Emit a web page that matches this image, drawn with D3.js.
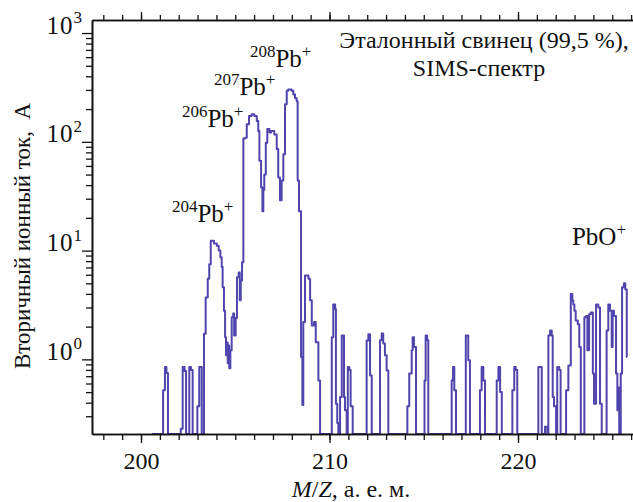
<!DOCTYPE html>
<meta charset="utf-8">
<script src="https://d3js.org/d3.v7.min.js"></script>
<style>
  body { margin: 0; background: #fff; }
  svg text { font-family: "Liberation Serif", "Times New Roman", serif; fill: #111; }
</style>
<div id="chart"></div>
<script>

// SIMS spectrum, as steps: m/z where the level starts, ion current (A)
// 0 = below the noise floor (drawn on the bottom axis)
const mz = [
  200.58, 201.17, 201.27, 201.35, 201.43, 202.11, 202.21, 202.31, 202.39, 202.56,
  202.65, 202.74, 202.99, 203.09, 203.22, 203.34, 203.43, 203.54, 203.62, 203.70,
  203.87, 204.02, 204.12, 204.21, 204.28, 204.33, 204.40, 204.46, 204.51, 204.55,
  204.60, 204.65, 204.68, 204.74, 204.81, 204.89, 204.94, 205.02, 205.09, 205.18,
  205.24, 205.29, 205.36, 205.43, 205.52, 205.61, 205.73, 205.87, 206.01, 206.14,
  206.22, 206.28, 206.37, 206.44, 206.49, 206.54, 206.62, 206.70, 206.81, 206.90,
  207.07, 207.20, 207.28, 207.37, 207.46, 207.55, 207.64, 207.73, 207.81, 207.99,
  208.08, 208.17, 208.26, 208.31, 208.38, 208.49, 208.56, 208.61, 208.70, 208.88,
  208.97, 209.06, 209.18, 209.27, 209.41, 209.50, 210.12, 210.20, 210.30, 210.34,
  210.41, 210.47, 210.56, 210.65, 210.77, 210.82, 210.91, 210.97, 211.05, 211.12,
  211.23, 211.97, 212.06, 212.15, 212.24, 212.68, 212.77, 212.85, 212.94, 213.03,
  213.12, 214.13, 214.23, 214.36, 214.41, 214.48, 214.59, 215.04, 215.10, 215.18,
  215.24, 216.48, 216.55, 216.62, 216.71, 217.23, 217.36, 217.45, 217.98, 218.07,
  218.16, 218.25, 218.87, 218.96, 219.05, 219.14, 219.70, 219.80, 219.88, 219.96,
  221.08, 221.26, 221.43, 221.55, 221.61, 221.70, 221.79, 221.84, 221.91, 222.02,
  222.08, 222.19, 222.26, 222.55, 222.67, 222.80, 222.88, 222.93, 222.99, 223.06,
  223.17, 223.25, 223.33, 223.52, 223.61, 223.68, 223.77, 223.86, 223.97, 224.03,
  224.14, 224.26, 224.35, 224.44, 224.70, 224.79, 224.88, 224.97, 225.02, 225.09,
  225.20, 225.27, 225.32, 225.37, 225.45, 225.52, 225.62, 225.69, 225.77, 225.79
];
const ion = [
  0, 0.52, 0.85, 0.75, 0, 0.23, 0.85, 0.78, 0, 0.85,
  0.8, 0, 0.37, 0.85, 0, 1.72, 3.7, 5.5, 7.5, 12.3,
  11.6, 11.1, 10.0, 8.7, 7.1, 4.6, 2.8, 1.6, 1.09, 1.43,
  0.92, 1.34, 0.83, 1.21, 2.44, 2.64, 1.66, 2.4, 5.7, 6.3,
  3.5, 5.3, 7.8, 107, 109, 145, 173, 179, 173, 155,
  126, 67, 38, 23, 36, 50, 98, 131, 122, 126,
  117, 86, 47, 29, 44, 77, 221, 294, 303, 294,
  273, 252, 236, 44, 23, 1.05, 0.38, 2.2, 5.9, 5.5,
  3.5, 2.05, 2.2, 1.44, 0.64, 0, 1.6, 3.2, 2.9, 0.39,
  0.26, 0, 0.45, 1.66, 0.45, 0.34, 0, 0.85, 0.8, 0.37,
  0, 1.49, 1.7, 0.71, 0, 1.5, 1.73, 1.4, 1.09, 0.79,
  0, 0.37, 0.74, 1.21, 1.6, 1.3, 0, 0.64, 1.66, 1.5,
  0, 0.64, 0.85, 0.52, 0, 1.66, 0.98, 0, 0.52, 0.85,
  0.64, 0, 0.64, 0.85, 0.50, 0, 0.52, 0.85, 0.8, 0,
  0.85, 0, 0.24, 0, 1.66, 1.84, 1.66, 0.45, 0.37, 0,
  0.85, 0.8, 0, 0.52, 0.88, 4.0, 3.5, 3.2, 2.8, 2.28,
  2.1, 1.3, 0, 2.44, 2.5, 1.21, 2.6, 2.7, 0.74, 0.39,
  3.2, 3.0, 0.39, 0, 1.84, 3.2, 2.8, 1.3, 2.8, 2.5,
  0.74, 0.34, 0.55, 0, 0.74, 4.6, 5.0, 4.4, 1.05, 1.05
];

// axis ticks
const xMajor = [200, 210, 220];
const xMinor = d3.range(198, 227);
const yMajor = [1, 10, 100, 1000];
const yExp = ["0", "1", "2", "3"];
const yMinor = [0.3, 0.4, 0.5, 0.6, 0.7, 0.8, 0.9,
                2, 3, 4, 5, 6, 7, 8, 9, 20, 30, 40, 50, 60, 70, 80, 90,
                200, 300, 400, 500, 600, 700, 800, 900];

// peak labels: isotope mass, ion
const peakMass = ["208", "207", "206", "204", ""];
const peakIon = ["Pb", "Pb", "Pb", "Pb", "PbO"];

const W = 633, H = 502;
const margin = {top: 20, left: 92, bottom: 68};
const width = W - margin.left;             // runs off the right edge like the original
const height = H - margin.top - margin.bottom;

const svg = d3.select("#chart").append("svg")
  .attr("width", W).attr("height", H);
const g = svg.append("g")
  .attr("transform", `translate(${margin.left},${margin.top})`);

const x = d3.scaleLinear().domain([197.4, 226.1]).range([0, width]);
const y = d3.scaleLog().domain([0.206, 1318]).range([height, 0]).clamp(true);

// spectrum
const pts = mz.map((m, i) => [m, ion[i]]);
g.append("path")
  .datum(pts)
  .attr("fill", "none")
  .attr("stroke", "#4f45ad")
  .attr("stroke-width", 2)
  .attr("stroke-linejoin", "round")
  .attr("d", d3.line().x(d => x(d[0])).y(d => y(d[1])).curve(d3.curveStepAfter));

// axes
function styleAxis(a) {
  a.attr("font-family", null);
  a.select(".domain").attr("stroke", "#111").attr("stroke-width", 1.6);
  a.selectAll(".tick line").attr("stroke", "#111").attr("stroke-width", 1.3);
}
const noLab = () => "";

g.append("g").attr("transform", `translate(0,${height})`)
  .call(d3.axisBottom(x).tickValues(xMinor).tickSize(6).tickSizeOuter(0).tickFormat(noLab))
  .call(styleAxis);
const xb = g.append("g").attr("transform", `translate(0,${height})`)
  .call(d3.axisBottom(x).tickValues(xMajor).tickSize(9).tickSizeOuter(0).tickFormat(d3.format("d")))
  .call(styleAxis);
xb.selectAll(".tick text").attr("font-size", 24)
  .attr("fill", "#111").attr("y", 18).attr("dy", "0.71em");

g.append("g")
  .call(d3.axisTop(x).tickValues(xMinor).tickSize(5).tickSizeOuter(0).tickFormat(noLab))
  .call(styleAxis);
g.append("g")
  .call(d3.axisTop(x).tickValues(xMajor).tickSize(8).tickSizeOuter(0).tickFormat(noLab))
  .call(styleAxis);

g.append("g")
  .call(d3.axisLeft(y).tickValues(yMinor).tickSize(6).tickSizeOuter(0).tickFormat(noLab))
  .call(styleAxis);
const ya = g.append("g")
  .call(d3.axisLeft(y).tickValues(yMajor).tickSize(10).tickSizeOuter(0).tickFormat(noLab))
  .call(styleAxis);

// text with raised parts: parts = [[text, raised]]
function rich(sel, parts, size, supSize) {
  const t = sel.append("text").attr("font-size", size);
  let shift = 0;
  parts.forEach(([s, up]) => {
    if (!s) return;
    const target = up ? -0.42 * size : 0;
    t.append("tspan").attr("dy", target - shift).attr("font-size", up ? supSize : size).text(s);
    shift = target;
  });
  return t;
}

ya.selectAll(".tick").each(function(d, i) {
  rich(d3.select(this), [["10", false], [yExp[i], true]], 25, 17)
    .attr("x", -9).attr("dy", "0.32em").attr("text-anchor", "end")
    .attr("letter-spacing", 1);
});

// peak labels placed at data coordinates
const labelAt = [[205.78, 486], [203.87, 269], [202.17, 136], [201.64, 18.2], [222.86, 11.2]];
labelAt.forEach((p, i) => {
  rich(g, [[peakMass[i], true], [peakIon[i], false], ["+", true]], 25, 17)
    .attr("x", x(p[0])).attr("y", y(p[1]));
});

// title
const title = g.append("text").attr("font-size", 24).attr("text-anchor", "middle")
  .attr("x", 392).attr("y", 28);
title.append("tspan").text("Эталонный свинец (99,5 %),");
title.append("tspan").attr("x", 387).attr("dy", 28).text("SIMS-спектр");

// axis titles
svg.append("text")
  .attr("transform", `translate(30,236) rotate(-90)`)
  .attr("text-anchor", "middle").attr("font-size", 23)
  .style("white-space", "pre")
  .text("Вторичный ионный ток,  А");

const xt = svg.append("text").attr("x", 351).attr("y", 497)
  .attr("text-anchor", "middle").attr("font-size", 24);
xt.append("tspan").attr("font-style", "italic").text("M");
xt.append("tspan").text("/");
xt.append("tspan").attr("font-style", "italic").text("Z");
xt.append("tspan").text(", а. е. м.");

</script>
